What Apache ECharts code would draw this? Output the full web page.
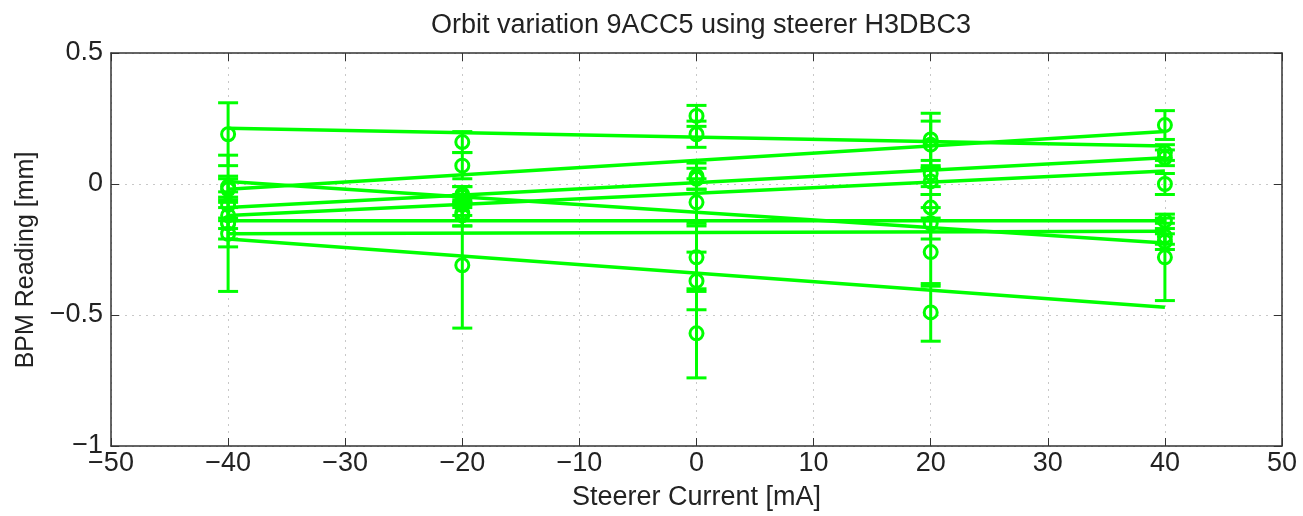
<!DOCTYPE html>
<html>
<head>
<meta charset="utf-8">
<script src="https://cdn.jsdelivr.net/npm/echarts@6/dist/echarts.min.js"></script>
<style>html,body{margin:0;padding:0;background:#fff;}#chart{width:1303px;height:516px;}</style>
</head>
<body>
<div id="chart"></div>
<script>
// ---- data ----
const titleText = 'Orbit variation 9ACC5 using steerer H3DBC3';
const xAxisName = 'Steerer Current [mA]';
const yAxisName = 'BPM Reading [mm]';
const xTicks = [-50, -40, -30, -20, -10, 0, 10, 20, 30, 40, 50];
const yTicks = [-1, -0.5, 0, 0.5];
const currents = [-40, -20, 0, 20, 40];

// measured BPM readings per series (at each steerer current)
const bpm1 = [0.19, 0.16, 0.26, 0.17, 0.12];
const bpm2 = [-0.01, 0.07, 0.19, 0.15, 0.225];
const bpm3 = [-0.02, -0.04, -0.07, -0.09, -0.22];
const bpm4 = [-0.08, -0.05, 0.03, 0.04, 0.10];
const bpm5 = [-0.12, -0.08, 0.02, 0.01, 0.0];
const bpm6 = [-0.15, -0.11, -0.28, -0.15, -0.14];
const bpm7 = [-0.19, -0.12, -0.37, -0.26, -0.20];
const bpm8 = [-0.15, -0.31, -0.57, -0.49, -0.28];

// error bar half-lengths
const err1 = [0.12, 0.04, 0.04, 0.10, 0.03];
const err2 = [0.04, 0.05, 0.05, 0.09, 0.055];
const err3 = [0.04, 0.03, 0.09, 0.05, 0.03];
const err4 = [0.05, 0.04, 0.05, 0.05, 0.03];
const err5 = [0.05, 0.04, 0.04, 0.05, 0.04];
const err6 = [0.06, 0.05, 0.13, 0.06, 0.01];
const err7 = [0.05, 0.04, 0.11, 0.13, 0.03];
const err8 = [0.26, 0.24, 0.17, 0.11, 0.165];

// fitted line values at the first and last current
const fitStart = [0.213, -0.02, 0.01, -0.09, -0.12, -0.14, -0.19, -0.21];
const fitEnd   = [0.145, 0.20, -0.225, 0.10, 0.05, -0.14, -0.18, -0.47];

// ---- build chart ----
const GREEN = '#00ff00';
const allBpm = [bpm1, bpm2, bpm3, bpm4, bpm5, bpm6, bpm7, bpm8];
const allErr = [err1, err2, err3, err4, err5, err6, err7, err8];
const minus = v => String(v).replace('-', '\u2212');
const FONT = 'Liberation Sans';
const FS = 27;

const series = [];
allBpm.forEach((vals, i) => {
  series.push({
    type: 'line',
    data: [[currents[0], fitStart[i]], [currents[currents.length - 1], fitEnd[i]]],
    showSymbol: false,
    symbol: 'none',
    lineStyle: { color: GREEN, width: 3.5 },
    silent: true,
    z: 3
  });
  series.push({
    type: 'custom',
    data: currents.map((c, j) => [c, vals[j], allErr[i][j]]),
    renderItem: function (params, api) {
      const x = api.value(0), y = api.value(1), e = api.value(2);
      const p = api.coord([x, y]);
      const t = api.coord([x, y + e]);
      const b = api.coord([x, y - e]);
      const cw = 10;
      const st = { stroke: GREEN, lineWidth: 3, fill: null };
      return {
        type: 'group',
        children: [
          { type: 'line', shape: { x1: t[0], y1: t[1], x2: b[0], y2: b[1] }, style: st },
          { type: 'line', shape: { x1: t[0] - cw, y1: t[1], x2: t[0] + cw, y2: t[1] }, style: st },
          { type: 'line', shape: { x1: b[0] - cw, y1: b[1], x2: b[0] + cw, y2: b[1] }, style: st },
          { type: 'circle', shape: { cx: p[0], cy: p[1], r: 6.5 }, style: { stroke: GREEN, lineWidth: 3, fill: 'none' } }
        ]
      };
    },
    silent: true,
    z: 4
  });
});

const axisLineStyle = { color: '#333', width: 1.5 };
const splitStyle = { show: true, lineStyle: { color: '#c8c8c8', type: [2, 5], width: 1 } };

const chart = echarts.init(document.getElementById('chart'), null, { renderer: 'canvas' });
chart.setOption({
  animation: false,
  backgroundColor: '#fff',
  title: {
    text: titleText,
    left: 696, top: 7, textAlign: 'center',
    textStyle: { fontFamily: FONT, fontSize: FS, fontWeight: 'normal', color: '#222' }
  },
  graphic: [{
    type: 'text',
    x: 26, y: 260, rotation: Math.PI / 2,
    style: { text: yAxisName, fontFamily: FONT, fontSize: 25, fill: '#222', textAlign: 'center', textVerticalAlign: 'middle' }
  }],
  grid: { left: 111, right: 21, top: 53, bottom: 70, containLabel: false },
  xAxis: [{
    type: 'value', min: xTicks[0], max: xTicks[xTicks.length - 1], interval: 10,
    name: xAxisName, nameLocation: 'middle', nameGap: 38,
    nameTextStyle: { fontFamily: FONT, fontSize: FS, color: '#222' },
    axisLine: { show: true, onZero: false, lineStyle: axisLineStyle },
    axisTick: { show: true, inside: true, length: 8, lineStyle: { color: '#333', width: 1 } },
    axisLabel: { fontFamily: FONT, fontSize: FS, color: '#222', margin: 4, formatter: minus },
    splitLine: splitStyle
  }, {
    type: 'value', position: 'top', min: xTicks[0], max: xTicks[xTicks.length - 1], interval: 10,
    axisLine: { show: true, onZero: false, lineStyle: axisLineStyle },
    axisTick: { show: true, inside: true, length: 8, lineStyle: { color: '#333', width: 1 } },
    axisLabel: { show: false }, splitLine: { show: false }
  }],
  yAxis: [{
    type: 'value', min: yTicks[0], max: yTicks[yTicks.length - 1], interval: 0.5,
    axisLine: { show: true, onZero: false, lineStyle: axisLineStyle },
    axisTick: { show: true, inside: true, length: 8, lineStyle: { color: '#333', width: 1 } },
    axisLabel: { fontFamily: FONT, fontSize: FS, color: '#222', margin: 8, formatter: minus },
    splitLine: splitStyle
  }, {
    type: 'value', position: 'right', min: yTicks[0], max: yTicks[yTicks.length - 1], interval: 0.5,
    axisLine: { show: true, onZero: false, lineStyle: axisLineStyle },
    axisTick: { show: true, inside: true, length: 8, lineStyle: { color: '#333', width: 1 } },
    axisLabel: { show: false }, splitLine: { show: false }
  }],
  series: series
});
</script>
</body>
</html>
